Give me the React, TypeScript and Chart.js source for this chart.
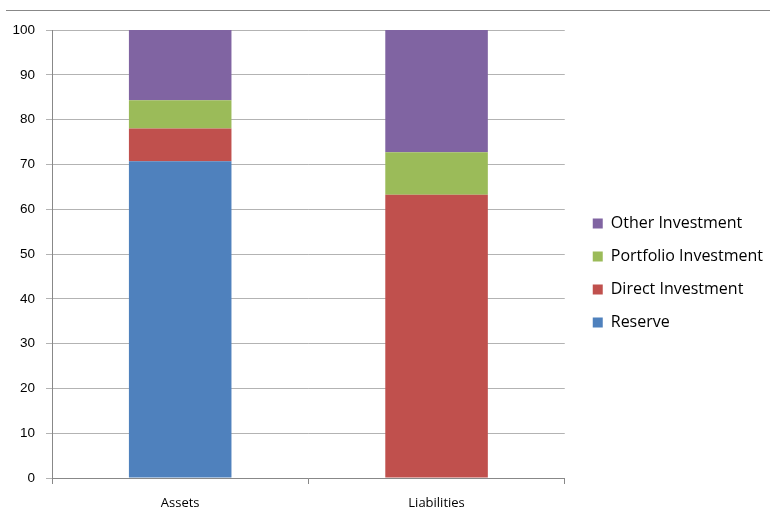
import React, { useEffect, useRef } from "react";
import { Chart, registerables } from "chart.js";

Chart.register(...registerables);

const categories = ["Assets", "Liabilities"];
const reserve = [70.7, 0];
const directInvestment = [7.3, 63.2];
const portfolioInvestment = [6.3, 9.5];
const otherInvestment = [15.7, 27.3];
const yTicks = [0, 10, 20, 30, 40, 50, 60, 70, 80, 90, 100];

const FONT = "'Open Sans', 'Noto Sans', sans-serif";
const YFONT = "'Liberation Sans', Arial, sans-serif";

const LEGEND_SHIFT = 11;

const legendShift = {
  id: "legendShift",
  afterLayout(chart: any) {
    const l = chart.legend;
    if (l) {
      l.left += LEGEND_SHIFT;
      l.right += LEGEND_SHIFT;
    }
  },
};

export default function App() {
  const ref = useRef<HTMLCanvasElement | null>(null);

  useEffect(() => {
    document.body.style.margin = "0";
    if (!ref.current) return;
    const chart = new Chart(ref.current, {
      type: "bar",
      data: {
        labels: categories,
        datasets: [
          { label: "Reserve", data: reserve, backgroundColor: "#4F81BD" },
          { label: "Direct Investment", data: directInvestment, backgroundColor: "#C0504D" },
          { label: "Portfolio Investment", data: portfolioInvestment, backgroundColor: "#9BBB59" },
          { label: "Other Investment", data: otherInvestment, backgroundColor: "#8064A2" },
        ],
      },
      plugins: [legendShift],
      options: {
        animation: false,
        responsive: false,
        maintainAspectRatio: false,
        layout: { padding: { top: 30, left: 0, right: 17, bottom: 0 } },
        datasets: { bar: { barPercentage: 0.5, categoryPercentage: 0.8 } },
        plugins: {
          tooltip: { enabled: false },
          legend: {
            position: "right",
            reverse: true,
            labels: {
              boxWidth: 10,
              boxHeight: 10,
              padding: 17,
              color: "#000",
              font: { family: FONT, size: 16 },
            },
          },
        },
        scales: {
          x: {
            stacked: true,
            afterFit: (s: any) => {
              s.height = 38;
            },
            grid: {
              offset: true,
              drawOnChartArea: false,
              drawTicks: true,
              tickLength: 6,
              color: "#888",
            },
            border: { color: "#888" },
            ticks: { color: "#000", font: { family: FONT, size: 13 }, padding: 11 },
          },
          y: {
            stacked: true,
            min: 0,
            max: 100,
            afterFit: (s: any) => {
              s.width = 52;
            },
            afterBuildTicks: (axis: any) => {
              axis.ticks = yTicks.map((v) => ({ value: v }));
            },
            grid: { color: "#b3b3b3", tickLength: 6 },
            border: { color: "#888" },
            ticks: { color: "#000", font: { family: YFONT, size: 13.5 }, padding: 11 },
          },
        },
      },
    });
    return () => chart.destroy();
  }, []);

  return (
    <div style={{ position: "relative", width: 770, height: 516 }}>
      <div
        style={{
          position: "absolute",
          left: 6,
          top: 10,
          width: 764,
          height: 1,
          background: "#888",
        }}
      />
      <canvas ref={ref} width={770} height={516} style={{ position: "absolute", left: 0, top: 0 }} />
    </div>
  );
}
